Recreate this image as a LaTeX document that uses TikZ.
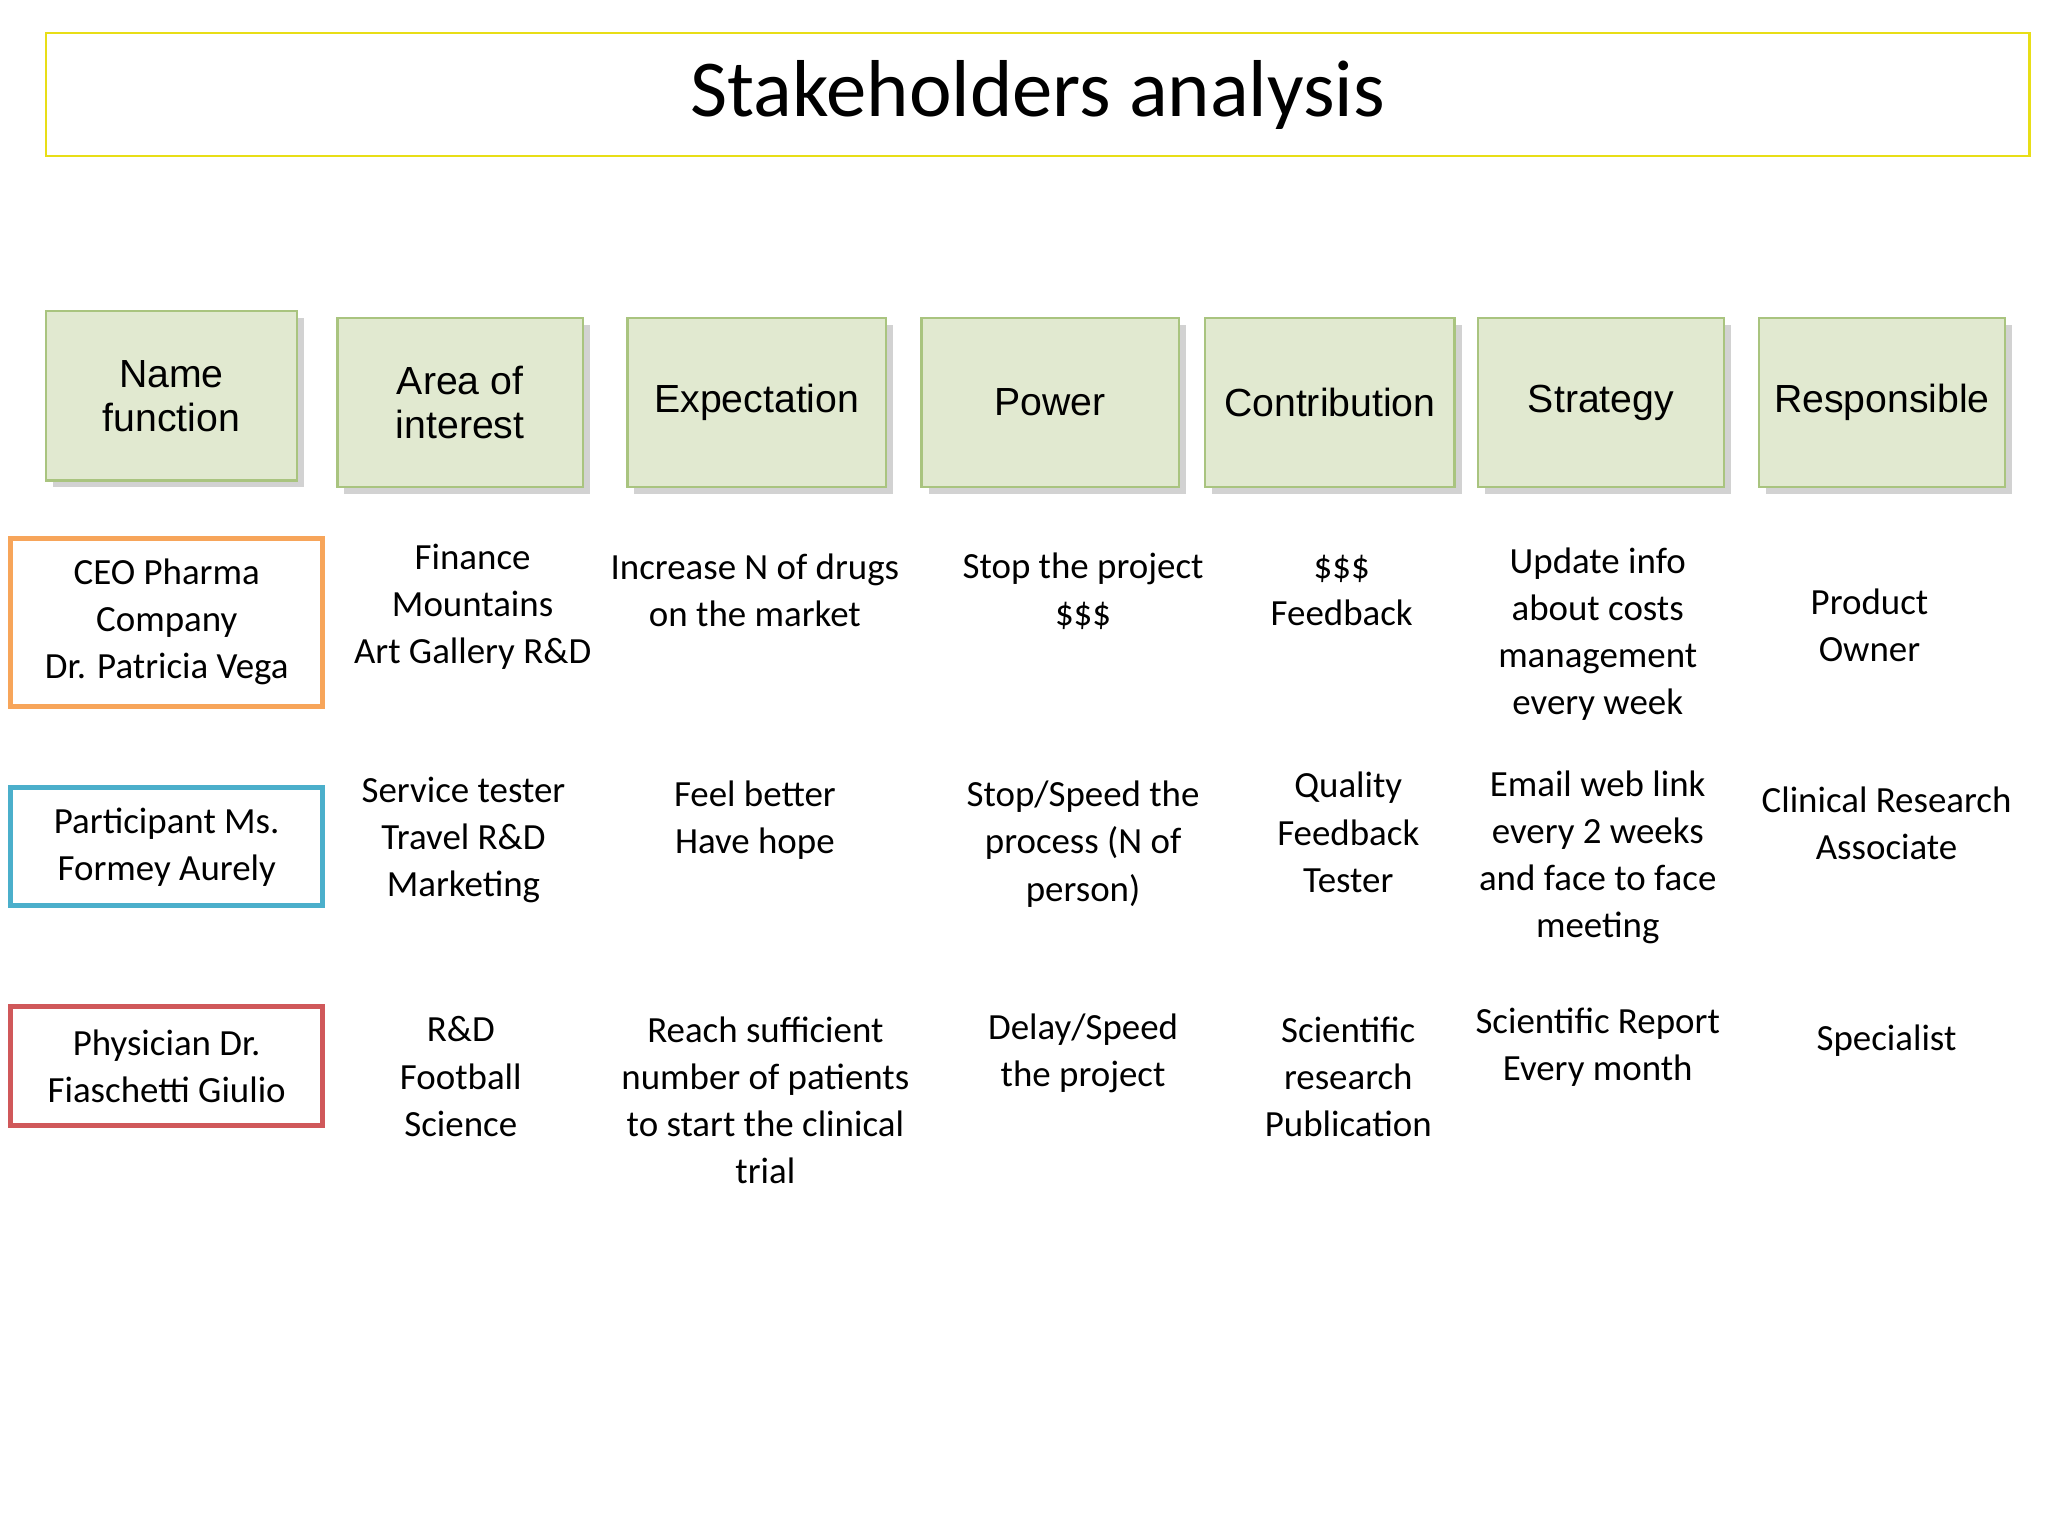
\documentclass[tikz,border=0pt]{standalone}
\usepackage{fontspec}
\setmainfont{Carlito}
\newfontfamily\arialf{Liberation Sans}
\usetikzlibrary{shadows}
\definecolor{hfill}{HTML}{E1E9D0}
\definecolor{hdraw}{HTML}{A9C47F}
\definecolor{corange}{HTML}{F7A55A}
\definecolor{cblue}{HTML}{4BAFCB}
\definecolor{cred}{HTML}{D0585A}
\tikzset{x=0.02cm,y=-0.02cm,
 hdr/.style={draw=hdraw,fill=hfill,line width=1pt,drop shadow={shadow xshift=3pt,shadow yshift=-3pt,opacity=0.35},font=\arialf\fontsize{17}{19}\selectfont,align=center,inner sep=0pt},
 rowbox/.style={line width=2.2pt,font=\fontsize{16}{20.4}\selectfont,align=center,inner sep=0pt},
 cell/.style={font=\fontsize{16}{20.4}\selectfont,align=center,inner sep=0pt}}
\begin{document}
\begin{tikzpicture}
\useasboundingbox (0,0) rectangle (1560,1170);
\fill[white] (0,0) rectangle (1560,1170);
\node[draw=yellow!90!black,line width=1pt,minimum width=1511*0.02cm,minimum height=94*0.02cm,font=\fontsize{35}{40}\selectfont] (title) at (790.5,72) {Stakeholders analysis};
\foreach \n/\a/\b/\t/\yy/\txt in {h1/35/226/237/366/{Name\\function},h2/257/444/242/371/{Area of\\interest},h3/478/675/242/371/Expectation,h4/702/898/242/371/Power,h5/918/1108/242/371/Contribution,h6/1126/1313/242/371/Strategy,h7/1340/1527/242/371/Responsible}{
 \node[hdr,minimum width={(\b-\a)*0.02cm},minimum height={(\yy-\t)*0.02cm}] (\n) at ({(\a+\b)/2},{(\t+\yy)/2}) {\txt};
}
\node[rowbox,draw=corange,minimum width=238*0.02cm,minimum height=128*0.02cm] (r1) at (127,474) {CEO Pharma\\Company\\Dr. Patricia Vega};
\node[rowbox,draw=cblue,minimum width=238*0.02cm,minimum height=90*0.02cm] (r2) at (127,645) {Participant Ms.\\Formey Aurely};
\node[rowbox,draw=cred,minimum width=238*0.02cm,minimum height=90*0.02cm] (r3) at (127,812) {Physician Dr.\\Fiaschetti Giulio};
% row 1
\node[cell] (a12) at (360,462) {Finance\\Mountains\\Art Gallery R\&D};
\node[cell] (a13) at (575,450) {Increase N of drugs\\on the market};
\node[cell] (a14) at (825,450) {Stop the project\\\$\$\$};
\node[cell] (a15) at (1022,450) {\$\$\$\\Feedback};
\node[cell] (a16) at (1217,483) {Update info\\about costs\\management\\every week};
\node[cell] (a17) at (1424,476) {Product\\Owner};
% row 2
\node[cell] (a22) at (353,640) {Service tester\\Travel R\&D\\Marketing};
\node[cell] (a23) at (575,625) {Feel better\\Have hope};
\node[cell] (a24) at (825,643) {Stop/Speed the\\process (N of\\person)};
\node[cell] (a25) at (1027,634) {Quality\\Feedback\\Tester};
\node[cell] (a26) at (1217,653) {Email web link\\every 2 weeks\\and face to face\\meeting};
\node[cell] (a27) at (1437,627) {Clinical Research\\Associate};
% row 3
\node[cell] (a32) at (351,820) {R\&D\\Football\\Science};
\node[cell] (a33) at (583,838) {Reach sufficient\\number of patients\\to start the clinical\\trial};
\node[cell] (a34) at (825,802) {Delay/Speed\\the project};
\node[cell] (a35) at (1027,820) {Scientific\\research\\Publication};
\node[cell] (a36) at (1217,798) {Scientific Report\\Every month};
\node[cell] (a37) at (1437,793) {Specialist};
\end{tikzpicture}
\end{document}
